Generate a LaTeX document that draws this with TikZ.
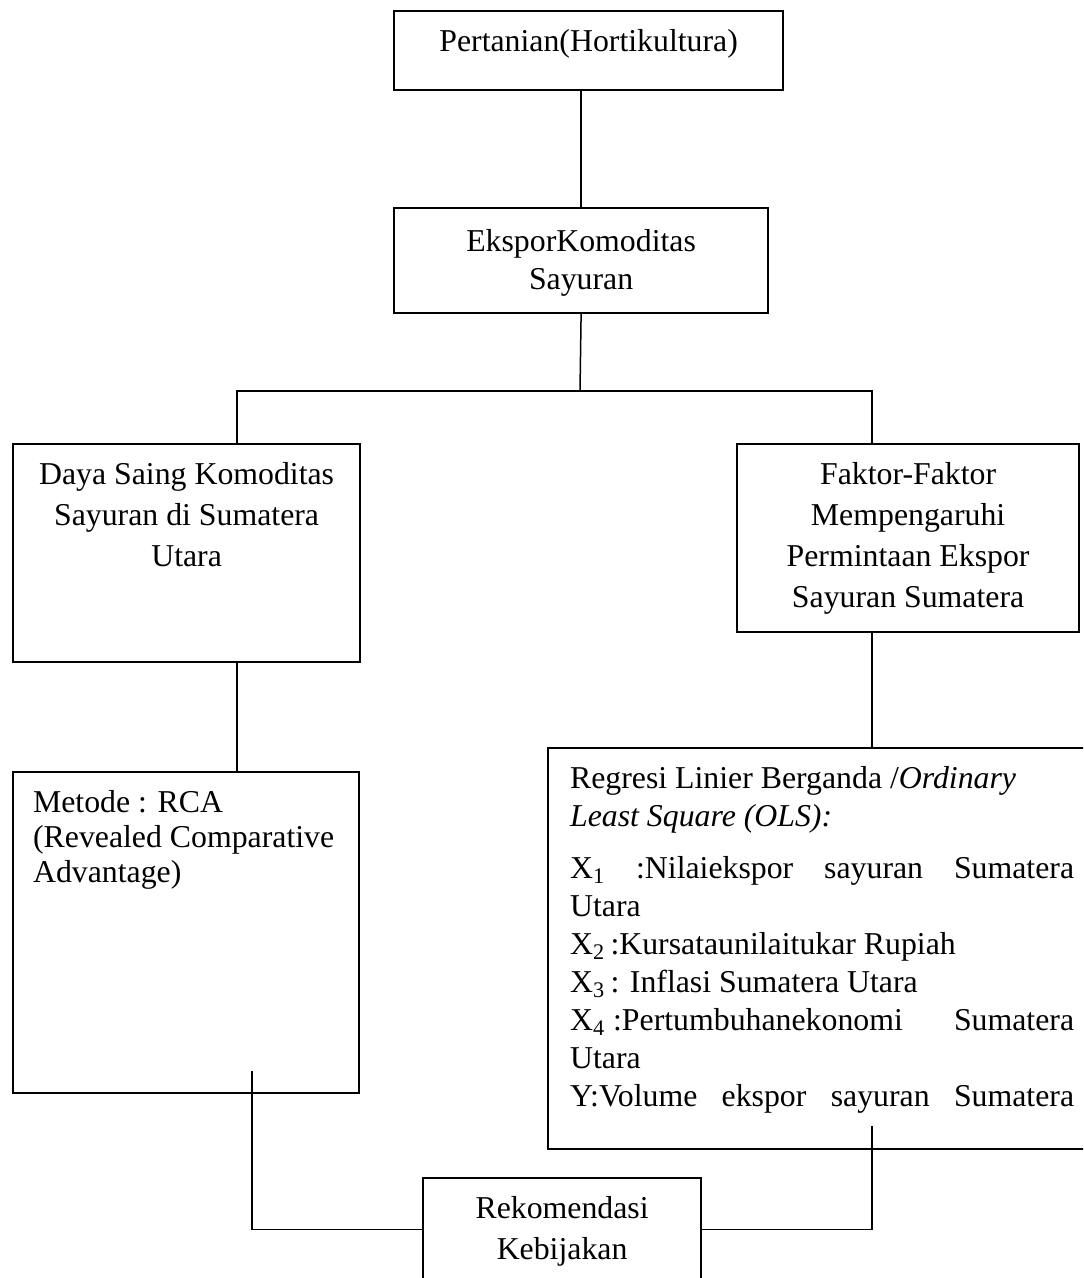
\documentclass[tikz,border=0pt]{standalone}
\usepackage{fontspec}
\setmainfont{Liberation Serif}
\usepackage{tikz}
\newcommand{\baris}[1]{\leavevmode\hbox to\linewidth{#1}}

\begin{document}
\begin{tikzpicture}[x=0.5pt, y=-0.5pt,
        kotak/.style={draw, line width=1.1pt, inner sep=0pt, anchor=north west, font=\fontsize{15.9}{20.5}\selectfont},
        garis/.style={line width=0.75pt}]
            \clip (0,0) rectangle (1083,1278);
            \node[kotak] (tani) at (393,10) {\parbox[c][39.5pt][t]{194.5pt}{\centering\rule{0pt}{20pt}Pertanian(Hortikultura)}};
            \node[kotak] (ekspor) at (393,207) {\parbox[c][52.5pt][t]{187pt}{\centering\fontsize{15.9}{19}\selectfont\rule{0pt}{21.5pt}EksporKomoditas\\Sayuran}};
            \node[kotak] (daya) at (12,443) {\parbox[c][109pt][t]{173.5pt}{\centering\rule{0pt}{20pt}Daya Saing Komoditas\\Sayuran di Sumatera\\Utara}};
            \node[kotak] (faktor) at (736,443) {\parbox[c][94pt][t]{171pt}{\centering\rule{0pt}{20pt}Faktor-Faktor\\Mempengaruhi\\Permintaan Ekspor\\Sayuran Sumatera}};
            \node[kotak, inner xsep=10pt] (metode) at (12,771) {\parbox[c][160.5pt][t]{153pt}{\raggedright\fontsize{15.9}{17.5}\selectfont\rule{0pt}{20pt}Metode : RCA\\(Revealed Comparative\\Advantage)}};
            \node[kotak, inner xsep=11pt] (regresi) at (547,747) {\parbox[c][200.5pt][t]{252pt}{\raggedright\fontsize{15.9}{19}\selectfont\rule{0pt}{20pt}Regresi Linier Berganda /\textit{Ordinary}\\
                \textit{Least Square (OLS):}\\[7pt]
                \baris{X\textsubscript{1}\hfill :Nilaiekspor\hfill sayuran\hfill Sumatera}\\
                Utara\\
                X\textsubscript{2}\,:Kursataunilaitukar Rupiah\\
                X\textsubscript{3}\,: Inflasi Sumatera Utara\\
                \baris{X\textsubscript{4} :Pertumbuhanekonomi\hfill Sumatera}\\
                Utara\\
                \baris{Y:Volume\hfill ekspor\hfill sayuran\hfill Sumatera}}};
            \node[kotak] (rekom) at (422,1177) {\parbox[c][51.5pt][t]{139pt}{\centering\rule{0pt}{20pt}Rekomendasi\\Kebijakan}};
            \coordinate (cabang) at (580,391);
            \coordinate (kiri) at (237,391);
            \coordinate (kanan) at (872,391);
            \coordinate (ujungkiri) at (252,1071);
            \coordinate (ujungkanan) at (872,1126);
            \draw[garis] (tani.south -| ekspor.north) -- (ekspor.north);
            \draw[garis] (ekspor.south) -- (cabang);
            \draw[garis] (kiri |- daya.north) -- (kiri) -- (kanan) -- (kanan |- faktor.north);
            \draw[garis] (kiri |- daya.south) -- (kiri |- metode.north);
            \draw[garis] (kanan |- faktor.south) -- (kanan |- regresi.north);
            \draw[garis] (ujungkiri) -- (ujungkiri |- rekom.west) -- (rekom.west);
            \draw[garis] (rekom.east) -- (rekom.east -| ujungkanan) -- (ujungkanan);
\end{tikzpicture}
\end{document}
